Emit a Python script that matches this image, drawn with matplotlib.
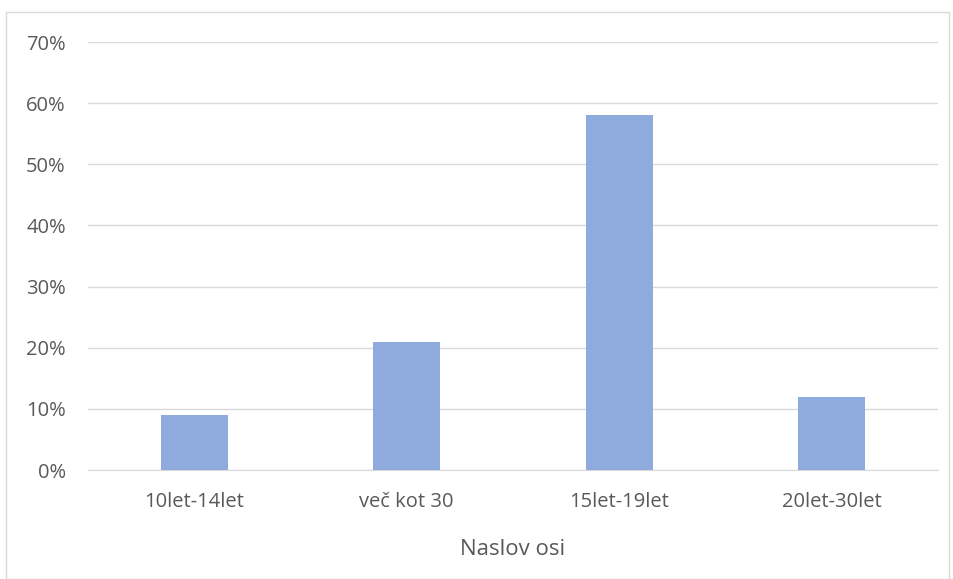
import matplotlib.pyplot as plt
from matplotlib.patches import Rectangle
from matplotlib.ticker import PercentFormatter

categories = ["10let-14let", "več kot 30", "15let-19let", "20let-30let"]
values = [0.09, 0.21, 0.58, 0.12]

plt.rcParams['font.family'] = ['Open Sans', 'DejaVu Sans']

fig = plt.figure(figsize=(9.54, 5.79), dpi=100)
ax = fig.add_axes([88 / 954, 1 - 470 / 579, 850 / 954, 428 / 579])

ax.bar(range(len(categories)), values, width=0.315, color="#8FAADC", zorder=3)
ax.set_xlim(-0.5, len(categories) - 0.5)
ax.set_ylim(0, 0.70)
ax.set_yticks([i / 10 for i in range(8)])
ax.yaxis.set_major_formatter(PercentFormatter(1.0, decimals=0))
ax.set_xticks(range(len(categories)))
ax.set_xticklabels(categories)
ax.grid(axis="y", color="#D9D9D9", linewidth=1, zorder=0)
for s in ["top", "right", "left"]:
    ax.spines[s].set_visible(False)
ax.spines["bottom"].set_color("#D9D9D9")
ax.tick_params(length=0, labelsize=14.5, colors="#595959")
ax.tick_params(axis="y", pad=16)
ax.tick_params(axis="x", pad=16)
ax.set_xlabel("Naslov osi", fontsize=16, color="#595959", labelpad=19)

fig.patches.append(Rectangle((6 / 954, 0), 943 / 954, 1 - 12 / 579, transform=fig.transFigure,
                             fill=False, edgecolor="#D9D9D9", linewidth=1))

fig.savefig("out.png", dpi=100)
